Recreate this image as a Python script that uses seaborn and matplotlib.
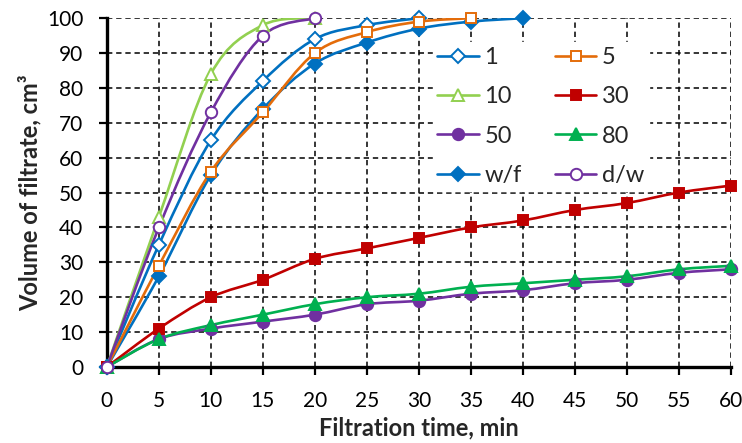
import numpy as np
import pandas as pd
import matplotlib
matplotlib.use("Agg")
import matplotlib.pyplot as plt
from matplotlib.path import Path
from matplotlib.patches import PathPatch
from matplotlib.lines import Line2D
import seaborn as sns

sns.set_theme(style="white")
plt.rcParams['font.family'] = ['Lato', 'DejaVu Sans']

# ---- data ----
t_1 = [0, 5, 10, 15, 20, 25, 30]
v_1 = [0, 35, 65, 82, 94, 98, 100]
t_5 = [0, 5, 10, 15, 20, 25, 30, 35]
v_5 = [0, 29, 56, 73, 90, 96, 99, 100]
t_10 = [0, 5, 10, 15, 20]
v_10 = [0, 43, 84, 98, 100]
t_30 = [0, 5, 10, 15, 20, 25, 30, 35, 40, 45, 50, 55, 60]
v_30 = [0, 11, 20, 25, 31, 34, 37, 40, 42, 45, 47, 50, 52]
t_50 = [0, 5, 10, 15, 20, 25, 30, 35, 40, 45, 50, 55, 60]
v_50 = [0, 8, 11, 13, 15, 18, 19, 21, 22, 24, 25, 27, 28]
t_80 = [0, 5, 10, 15, 20, 25, 30, 35, 40, 45, 50, 55, 60]
v_80 = [0, 8, 12, 15, 18, 20, 21, 23, 24, 25, 26, 28, 29]
t_wf = [0, 5, 10, 15, 20, 25, 30, 35, 40]
v_wf = [0, 26, 55, 74, 87, 93, 97, 99, 100]
t_dw = [0, 5, 10, 15, 20]
v_dw = [0, 40, 73, 95, 100]

x_ticks = list(range(0, 61, 5))
y_ticks = list(range(0, 101, 10))

series = [
    ("1", t_1, v_1, "#0070C0", "D", True),
    ("10", t_10, v_10, "#92D050", "^", True),
    ("50", t_50, v_50, "#7030A0", "o", False),
    ("w/f", t_wf, v_wf, "#0070C0", "D", False),
    ("5", t_5, v_5, "#E46C0A", "s", True),
    ("30", t_30, v_30, "#C00000", "s", False),
    ("80", t_80, v_80, "#00B050", "^", False),
    ("d/w", t_dw, v_dw, "#7030A0", "o", True),
]

fig = plt.figure(figsize=(7.42, 4.43), dpi=100)
ax = fig.add_axes([0.144, 0.1716, 0.841, 0.7874])


def smooth_path(xs, ys):
    pts = np.column_stack([xs, ys]).astype(float)
    n = len(pts)
    verts = [pts[0]]
    codes = [Path.MOVETO]
    for i in range(n - 1):
        p0 = pts[i - 1] if i > 0 else pts[i]
        p1 = pts[i]
        p2 = pts[i + 1]
        p3 = pts[i + 2] if i + 2 < n else pts[i + 1]
        c1 = p1 + (p2 - p0) / 6.0
        c2 = p2 - (p3 - p1) / 6.0
        verts += [c1, c2, p2]
        codes += [Path.CURVE4] * 3
    return Path(verts, codes)


handles = []
for name, t, v, col, mk, hollow in series:
    df = pd.DataFrame({"t": t, "v": v})
    patch = PathPatch(smooth_path(t, v), facecolor="none", edgecolor=col,
                      lw=1.9, zorder=3, clip_on=True)
    ax.add_patch(patch)
    ms = {"D": 7.2, "^": 8.5, "s": 7.8, "o": 8.2}[mk]
    face = "white" if hollow else col
    sns.lineplot(data=df, x="t", y="v", ax=ax, linestyle="none", marker=mk,
                 markersize=ms, markerfacecolor=face, markeredgecolor=col,
                 markeredgewidth=1.4, color=col, zorder=4, clip_on=False,
                 legend=False)
    handles.append(Line2D([0], [0], color=col, lw=1.9, marker=mk,
                          markersize=ms, markerfacecolor=face,
                          markeredgecolor=col, markeredgewidth=1.4,
                          label=name))

ax.set_xlim(0, 60)
ax.set_ylim(0, 100)
ax.set_xticks(x_ticks)
ax.set_yticks(y_ticks)
ax.grid(True, color="black", linestyle=(0, (3.5, 2.5)), linewidth=1.1)
ax.set_axisbelow(True)

for s in ["left", "bottom"]:
    ax.spines[s].set_linewidth(2.4)
    ax.spines[s].set_color("black")
for s in ["top", "right"]:
    ax.spines[s].set_visible(False)

ax.tick_params(axis="both", direction="out", length=6, width=1.6,
               color="black", labelsize=15, labelcolor="black",
               bottom=True, left=True)
ax.tick_params(axis="x", pad=11)
ax.tick_params(axis="y", pad=11)

ax.set_xlabel("Filtration time, min", fontsize=17, fontweight="bold",
              labelpad=4)
ax.set_ylabel("Volume of filtrate, cm³", fontsize=17, fontweight="bold",
              labelpad=4)

leg = ax.legend(handles=handles, ncol=2, loc="upper left",
                bbox_to_anchor=(0.503, 0.965), frameon=True,
                fontsize=17, handlelength=1.75, handletextpad=0.25,
                columnspacing=1.4, labelspacing=0.78, borderpad=0.2,
                fancybox=False)
leg.get_frame().set_facecolor("white")
leg.get_frame().set_edgecolor("white")
leg.get_frame().set_alpha(1.0)
leg.set_zorder(10)

fig.savefig("out.png", dpi=100)
